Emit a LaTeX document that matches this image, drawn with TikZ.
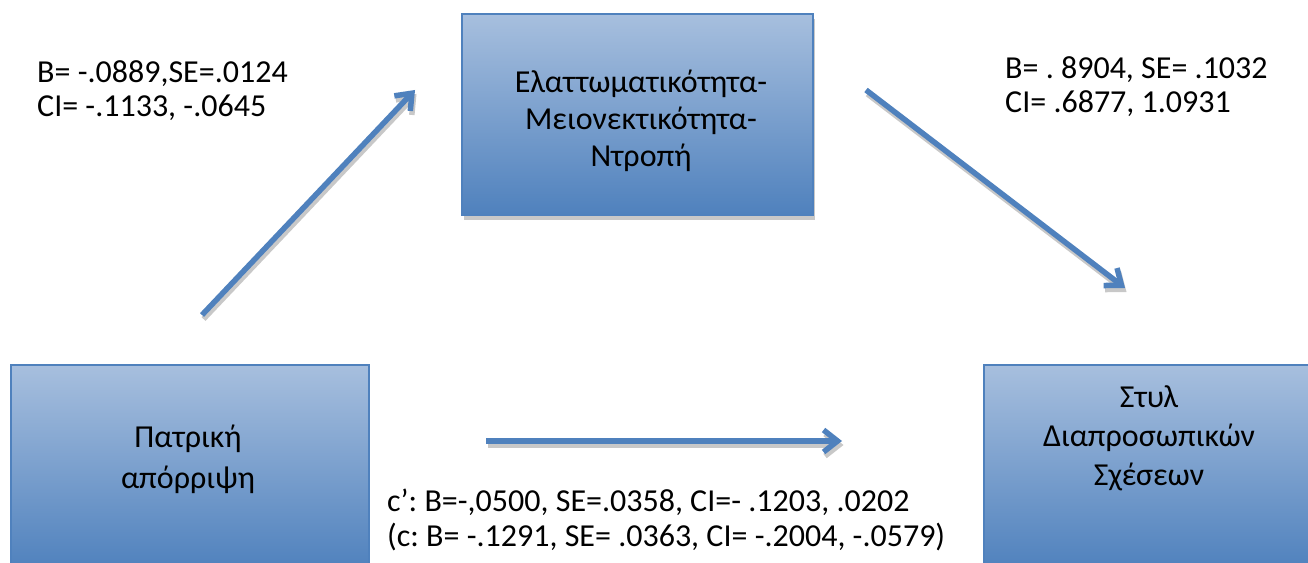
\documentclass[tikz,border=0pt]{standalone}
\usepackage{fontspec}
\setmainfont{Carlito}
\usetikzlibrary{arrows.meta,shadows}
\definecolor{boxlight}{HTML}{A7BFDE}
\definecolor{boxdark}{HTML}{4F81BD}
\definecolor{arrowblue}{HTML}{4F81BD}
\definecolor{shadowgray}{HTML}{C8C8C8}
\frenchspacing
\begin{document}
\begin{tikzpicture}[x=1pt,y=1pt,
  boxstyle/.style={draw=boxdark, line width=1.5pt, top color=boxlight, bottom color=boxdark, inner sep=0pt},
  boxshadow/.style={drop shadow={shadow xshift=1.5pt, shadow yshift=-5pt, fill=shadowgray, opacity=1}},
  lbl/.style={font=\fontsize{32}{38}\selectfont, inner sep=0pt},
  arrowline/.style={draw=arrowblue, line width=5.5pt, -{Straight Barb[length=14pt,width=22pt]}},
  shadowline/.style={draw=shadowgray, line width=5.5pt, -{Straight Barb[length=14pt,width=22pt]}}
]
\clip (0,0) rectangle (1308,562);
\fill[white] (0,0) rectangle (1308,562);

% boxes
\node[boxstyle, boxshadow, minimum width=351pt, minimum height=201pt] (med) at (637.5,447.5) {};
\node[boxstyle, minimum width=358pt, minimum height=205pt] (pred) at (190,94.5) {};
\node[boxstyle, minimum width=340pt, minimum height=205pt] (out) at (1154,94.5) {};

% box texts
\node[lbl, anchor=base] (m1) at (641,469) {Ελαττωματικότητα-};
\node[lbl, anchor=base] (m2) at (641,432) {Μειονεκτικότητα-};
\node[lbl, anchor=base] (m3) at (641,395) {Ντροπή};

\node[lbl, anchor=base] (p1) at (188,114) {Πατρική};
\node[lbl, anchor=base] (p2) at (188,74) {απόρριψη};

\node[lbl, anchor=base] (o1) at (1149,154) {Στυλ};
\node[lbl, anchor=base] (o2) at (1149,115) {Διαπροσωπικών};
\node[lbl, anchor=base] (o3) at (1149,76) {Σχέσεων};

% coefficient labels
\node[lbl, anchor=base west] (a1) at (37,479) {B= -.0889,SE=.0124};
\node[lbl, anchor=base west] (a2) at (37,445) {CI= -.1133, -.0645};
\node[lbl, anchor=base west] (b1) at (1005,483) {B= . 8904, SE= .1032};
\node[lbl, anchor=base west] (b2) at (1005,449) {CI= .6877, 1.0931};
\node[lbl, anchor=base west] (c1) at (387,51) {c’: B=-,0500, SE=.0358, CI=- .1203, .0202};
\node[lbl, anchor=base west] (c2) at (387,16) {(c: B= -.1291, SE= .0363, CI= -.2004, -.0579)};

% arrow end points
\coordinate (x1s) at (202,247);
\coordinate (x1e) at (415,472);
\coordinate (x2s) at (866,472);
\coordinate (x2e) at (1125,274);
\coordinate (x3s) at (486,121);
\coordinate (x3e) at (842,121);

% shadows
\draw[shadowline] ([shift={(1.5,-4)}]x1s) -- ([shift={(1.5,-4)}]x1e);
\draw[shadowline] ([shift={(1.5,-4)}]x2s) -- ([shift={(1.5,-4)}]x2e);
\draw[shadowline] ([shift={(1.5,-4)}]x3s) -- ([shift={(1.5,-4)}]x3e);
% arrows
\draw[arrowline] (x1s) -- (x1e);
\draw[arrowline] (x2s) -- (x2e);
\draw[arrowline] (x3s) -- (x3e);
\end{tikzpicture}
\end{document}
